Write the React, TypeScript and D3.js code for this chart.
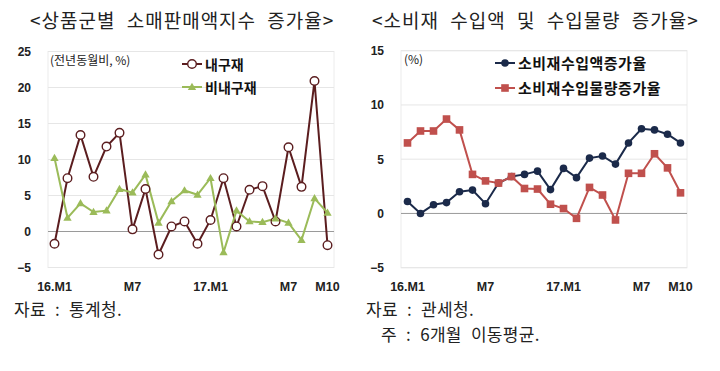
import React, { useEffect, useRef } from "react";
import * as d3 from "d3";

const months = [
  "16.M1", "M2", "M3", "M4", "M5", "M6", "M7", "M8", "M9", "M10", "M11", "M12",
  "17.M1", "M2", "M3", "M4", "M5", "M6", "M7", "M8", "M9", "M10",
];

// left chart: 상품군별 소매판매액지수 증가율
const durable = [-1.7, 7.4, 13.4, 7.6, 11.8, 13.7, 0.3, 5.9, -3.2, 0.7, 1.4, -1.7, 1.6, 7.4, 0.7, 5.8, 6.3, 1.4, 11.7, 6.2, 20.9, -1.9];
const nonDurable = [10.2, 1.9, 3.9, 2.7, 2.9, 5.9, 5.4, 7.9, 1.2, 4.2, 5.7, 5.1, 7.4, -2.9, 2.9, 1.4, 1.3, 1.8, 1.2, -1.2, 4.6, 2.6];

// right chart: 소비재 수입액 및 수입물량 증가율
const importValue = [1.1, 0.0, 0.8, 1.0, 2.0, 2.15, 0.9, 2.8, 3.4, 3.6, 3.9, 2.2, 4.15, 3.3, 5.1, 5.3, 4.55, 6.5, 7.8, 7.7, 7.3, 6.5];
const importVolume = [6.5, 7.6, 7.6, 8.7, 7.7, 3.6, 3.0, 2.8, 3.4, 2.3, 2.25, 0.85, 0.45, -0.45, 2.4, 1.7, -0.6, 3.7, 3.7, 5.5, 4.2, 1.9];

const leftTicks = [-5, 0, 5, 10, 15, 20, 25];
const rightTicks = [-5, 0, 5, 10, 15];

const KR = "'Noto Sans CJK KR', sans-serif";
const NUM = "'Liberation Sans', Arial, sans-serif";

type Series = { name: string; values: number[]; color: string; marker: string };

const App = () => {
  const svgRef = useRef<SVGSVGElement | null>(null);
  const w = 720;
  const h = 371;

  useEffect(() => {
    const svg = d3.select(svgRef.current);
    svg.selectAll("*").remove();
    svg.append("rect").attr("width", w).attr("height", h).attr("fill", "#fff");

    const idx = months.map((_, i) => i);
    const labelIdx = [0, 6, 12, 18, 21];
    const labelText = ["16.M1", "M7", "17.M1", "M7", "M10"];

    function drawPanel(opts: {
      left: number; right: number; top: number; bottom: number;
      domain: [number, number]; ticks: number[]; series: Series[];
      unit: string; unitX: number; legendX: number; legendTextX: number;
      legendY: number[]; legendFont: number; legendSpacing: number;
      title: string; titleX: number;
    }) {
      const g = svg.append("g");
      const x = d3.scaleBand<number>().domain(idx).range([opts.left, opts.right]);
      const y = d3.scaleLinear().domain(opts.domain).range([opts.bottom, opts.top]);

      // plot frame
      g.append("rect")
        .attr("x", opts.left).attr("y", opts.top)
        .attr("width", opts.right - opts.left).attr("height", opts.bottom - opts.top)
        .attr("fill", "none").attr("stroke", "#ececec");

      // gridlines
      g.selectAll(".grid").data(opts.ticks).enter().append("line")
        .attr("x1", opts.left).attr("x2", opts.right)
        .attr("y1", (d) => y(d)).attr("y2", (d) => y(d))
        .attr("stroke", (d) => (d === 0 ? "#9a9a9a" : "#e6e6e6"))
        .attr("stroke-width", 1);

      // y labels
      const yAxis = d3.axisLeft(y).tickValues(opts.ticks).tickSize(0).tickPadding(0);
      const ya = g.append("g").attr("transform", `translate(${opts.left - 17},0)`).call(yAxis);
      ya.select(".domain").remove();
      ya.selectAll("text")
        .style("font-family", NUM).style("font-weight", "bold")
        .style("font-size", "12px").attr("fill", "#222");

      // x labels
      g.selectAll(".xl").data(labelIdx).enter().append("text")
        .attr("x", (d) => x(d)! + x.bandwidth() / 2)
        .attr("y", opts.bottom + 23)
        .attr("text-anchor", "middle")
        .style("font-family", NUM).style("font-weight", "bold").style("font-size", "12.5px")
        .attr("fill", "#222")
        .text((d, i) => labelText[i]);

      // unit label
      g.append("text").attr("x", opts.unitX).attr("y", opts.top + 13)
        .style("font-family", KR).style("font-size", "12px").attr("fill", "#222")
        .text(opts.unit);

      const line = d3.line<number>()
        .x((_, i) => x(i)! + x.bandwidth() / 2)
        .y((d) => y(d));

      const drawMarker = (sel: any, s: Series, cx: number, cy: number) => {
        if (s.marker === "openCircle") {
          sel.append("circle").attr("cx", cx).attr("cy", cy).attr("r", 4.3)
            .attr("fill", "#fff").attr("stroke", s.color).attr("stroke-width", 1.4);
        } else if (s.marker === "circle") {
          sel.append("circle").attr("cx", cx).attr("cy", cy).attr("r", 3.8).attr("fill", s.color);
        } else if (s.marker === "square") {
          sel.append("rect").attr("x", cx - 3.8).attr("y", cy - 3.8)
            .attr("width", 7.6).attr("height", 7.6).attr("fill", s.color);
        } else {
          sel.append("path")
            .attr("d", d3.symbol(d3.symbolTriangle, 30)())
            .attr("transform", `translate(${cx},${cy + 0.5})`)
            .attr("fill", s.color);
        }
      };

      opts.series.forEach((s) => {
        g.append("path").datum(s.values).attr("d", line)
          .attr("fill", "none").attr("stroke", s.color).attr("stroke-width", 2);
      });
      opts.series.forEach((s) => {
        s.values.forEach((v, i) => drawMarker(g, s, x(i)! + x.bandwidth() / 2, y(v)));
      });

      // legend
      opts.series.forEach((s, k) => {
        const ly = opts.legendY[k];
        g.append("line").attr("x1", opts.legendX).attr("x2", opts.legendTextX - 3)
          .attr("y1", ly).attr("y2", ly).attr("stroke", s.color).attr("stroke-width", 2);
        drawMarker(g, s, (opts.legendX + opts.legendTextX - 3) / 2, ly);
        g.append("text").attr("x", opts.legendTextX).attr("y", ly + 5.5)
          .style("font-family", KR).style("font-weight", "bold")
          .style("font-size", `${opts.legendFont}px`)
          .style("letter-spacing", `${opts.legendSpacing}px`)
          .attr("fill", "#111").text(s.name);
      });

      // title
      svg.append("text").attr("x", opts.titleX).attr("y", 28)
        .style("font-family", KR).style("font-size", "19px")
        .style("letter-spacing", "1px").style("word-spacing", "6px")
        .attr("fill", "#222")
        .text(opts.title);
    }

    drawPanel({
      left: 48, right: 334, top: 51.5, bottom: 267.5,
      domain: [-5, 25], ticks: leftTicks,
      series: [
        { name: "내구재", values: durable, color: "#5b1d1f", marker: "openCircle" },
        { name: "비내구재", values: nonDurable, color: "#9bbb59", marker: "triangle" },
      ],
      unit: "(전년동월비, %)", unitX: 50, legendX: 182, legendTextX: 205,
      legendY: [64, 87], legendFont: 14, legendSpacing: 0,
      title: "<상품군별 소매판매액지수 증가율>", titleX: 30,
    });

    drawPanel({
      left: 401, right: 687, top: 50.7, bottom: 267.7,
      domain: [-5, 15], ticks: rightTicks,
      series: [
        { name: "소비재수입액증가율", values: importValue, color: "#1b2a4a", marker: "circle" },
        { name: "소비재수입물량증가율", values: importVolume, color: "#c0504d", marker: "square" },
      ],
      unit: "(%)", unitX: 404, legendX: 495, legendTextX: 518,
      legendY: [63, 88], legendFont: 15, legendSpacing: 0.5,
      title: "<소비재 수입액 및 수입물량 증가율>", titleX: 372,
    });

    // sources / notes
    const notes = [
      { x: 14, y: 316, t: "자료 : 통계청." },
      { x: 366, y: 316, t: "자료 : 관세청." },
      { x: 381, y: 341, t: "주 : 6개월 이동평균." },
    ];
    svg.selectAll(".note").data(notes).enter().append("text")
      .attr("x", (d) => d.x).attr("y", (d) => d.y)
      .style("font-family", KR).style("font-size", "17px")
      .style("word-spacing", "5px").style("letter-spacing", "0.3px")
      .attr("fill", "#222")
      .text((d) => d.t);
  }, []);

  return (
    <svg ref={svgRef} width={w} height={h}
      style={{ position: "absolute", left: 0, top: 0 }} />
  );
};

export default App;
